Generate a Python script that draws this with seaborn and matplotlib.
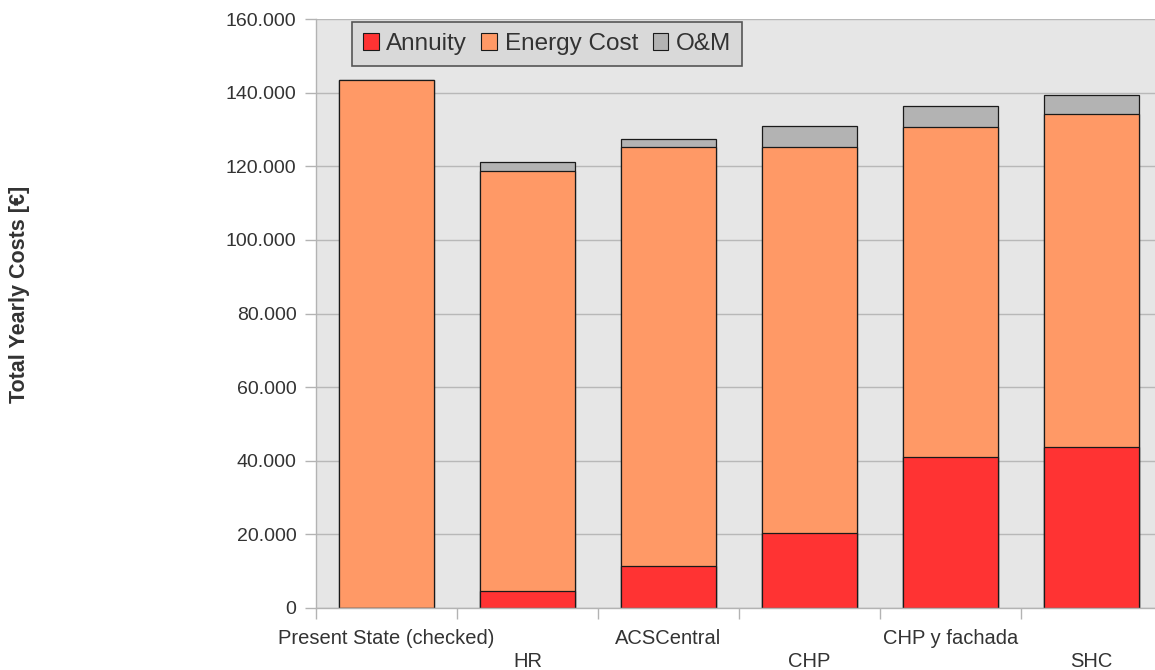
import matplotlib
matplotlib.use("Agg")
import matplotlib.pyplot as plt
import seaborn as sns
import pandas as pd
from matplotlib.patches import Patch
from matplotlib.ticker import FuncFormatter

# Yearly cost breakdown per scenario (EUR)
scenarios = ["Present State (checked)", "HR", "ACSCentral", "CHP", "CHP y fachada", "SHC"]
annuity = [0, 4700, 11300, 20400, 40900, 43600]
energy_cost = [143500, 114000, 113800, 104700, 89700, 90500]
o_and_m = [0, 2500, 2400, 5900, 5700, 5300]

series_names = ["Annuity", "Energy Cost", "O&M"]
series_colors = ["#FF3333", "#FF9966", "#B3B3B3"]
y_ticks = [0, 20000, 40000, 60000, 80000, 100000, 120000, 140000, 160000]
y_label = "Total Yearly Costs [€]"

sns.set_theme(style="white")
plt.rcParams["font.family"] = ["Liberation Sans", "DejaVu Sans"]

df = pd.DataFrame({
    "scenario": scenarios,
    "Annuity": annuity,
    "Energy Cost": energy_cost,
    "O&M": o_and_m,
})
# cumulative tops for stacking
df["top_annuity"] = df["Annuity"]
df["top_energy"] = df["top_annuity"] + df["Energy Cost"]
df["top_om"] = df["top_energy"] + df["O&M"]

W, H = 1155, 670
fig = plt.figure(figsize=(W / 100, H / 100), dpi=100)
fig.patch.set_facecolor("white")
ax = fig.add_axes([316 / W, 62 / H, 846 / W, 589 / H])
ax.set_facecolor("#E6E6E6")
ax.set_axisbelow(True)

text_color = "#333333"
edge = "#1A1A1A"

# draw the stacks tallest-first so each segment sits on top of the previous one
for col, color in [("top_om", series_colors[2]),
                   ("top_energy", series_colors[1]),
                   ("top_annuity", series_colors[0])]:
    sns.barplot(data=df, x="scenario", y=col, order=scenarios, color=color,
                saturation=1, width=0.667, edgecolor=edge, linewidth=0.9,
                errorbar=None, ax=ax)

ax.set_xlim(-0.5, len(scenarios) - 0.5)
ax.set_ylim(0, 160000)
ax.set_yticks(y_ticks)
ax.yaxis.set_major_formatter(FuncFormatter(lambda v, p: f"{v:,.0f}".replace(",", ".")))
ax.grid(axis="y", color="#B8B8B8", linewidth=1.0)
ax.grid(axis="x", visible=False)

# staggered category labels
ax.set_xticks(range(len(scenarios)))
ax.set_xticklabels([s if i % 2 == 0 else "\n" + s for i, s in enumerate(scenarios)])
for lbl in ax.get_xticklabels():
    lbl.set_linespacing(1.3)
ax.set_xticks([i - 0.5 for i in range(len(scenarios) + 1)], minor=True)
ax.tick_params(axis="x", which="major", length=0, pad=15, labelsize=14.5, labelcolor=text_color)
ax.tick_params(axis="x", which="minor", length=8, width=1, color="#B3B3B3", direction="out", bottom=True)
ax.tick_params(axis="y", which="major", length=8, width=1, color="#B3B3B3", direction="out",
               left=True, pad=6, labelsize=14, labelcolor=text_color)

ax.set_xlabel("")
ax.set_ylabel("")
for s in ["top", "right"]:
    ax.spines[s].set_visible(False)
for s in ["left", "bottom"]:
    ax.spines[s].set_color("#B3B3B3")
    ax.spines[s].set_linewidth(1.0)

fig.text(20 / W, 1 - 294 / H, y_label, rotation=90, ha="center", va="center",
         fontsize=15.5, fontweight="bold", color=text_color)

handles = [Patch(facecolor=c, edgecolor=edge, linewidth=0.8, label=n)
           for n, c in zip(series_names, series_colors)]
leg = ax.legend(handles=handles, loc="upper left", bbox_to_anchor=(352 / W, 1 - 22 / H),
                bbox_transform=fig.transFigure, ncol=3, frameon=True, fancybox=False,
                fontsize=17.5, handlelength=0.65, handleheight=0.65, handletextpad=0.3,
                columnspacing=0.6, borderpad=0.45, borderaxespad=0,
                facecolor="#D9D9D9", edgecolor="#555555", framealpha=1)
leg.get_frame().set_linewidth(1.2)
for t in leg.get_texts():
    t.set_color(text_color)

fig.savefig("out.png", dpi=100, facecolor="white")
